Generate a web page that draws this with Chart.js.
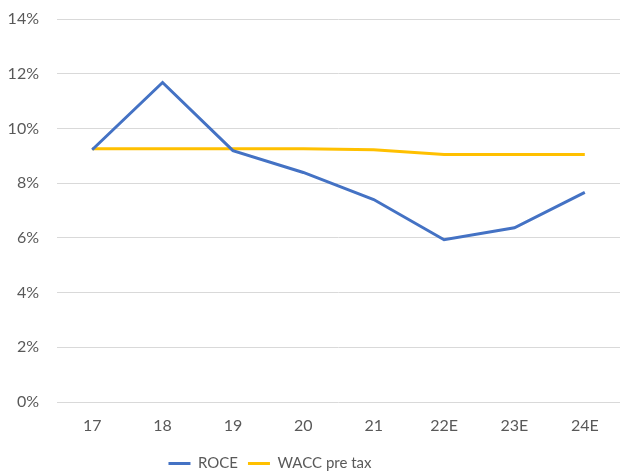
<!DOCTYPE html>
<html>
<head>
<meta charset="utf-8">
<script src="https://cdn.jsdelivr.net/npm/chart.js@4/dist/chart.umd.min.js"></script>
<style>
  html, body { margin: 0; padding: 0; background: #fff; }
  #wrap { width: 620px; height: 472px; position: relative; }
</style>
</head>
<body>
<div id="wrap"><canvas id="c" width="620" height="472"></canvas></div>
<script>
const categories = ['17', '18', '19', '20', '21', '22E', '23E', '24E'];
const roce = [9.22, 11.68, 9.19, 8.39, 7.40, 5.93, 6.37, 7.66];
const waccPreTax = [9.26, 9.26, 9.26, 9.26, 9.22, 9.05, 9.05, 9.05];
const yTicks = [0, 2, 4, 6, 8, 10, 12, 14];

const fontFamily = 'Lato, "Open Sans", sans-serif';
const textColor = '#595959';

// Nudge the legend row a little left of the canvas centre.
const legendShift = {
  id: 'legendShift',
  afterLayout(chart) {
    const lg = chart.legend;
    if (lg) { lg.left -= 40; lg.right -= 40; }
  }
};

new Chart(document.getElementById('c'), {
  type: 'line',
  data: {
    labels: categories,
    datasets: [
      { label: 'ROCE', data: roce, borderColor: '#4472C4', backgroundColor: '#4472C4',
        borderWidth: 3, pointRadius: 0, tension: 0 },
      { label: 'WACC pre tax', data: waccPreTax, borderColor: '#FFC000', backgroundColor: '#FFC000',
        borderWidth: 3, pointRadius: 0, tension: 0 }
    ]
  },
  plugins: [legendShift],
  options: {
    responsive: false,
    animation: false,
    layout: { padding: { top: 19, right: 0, left: 0, bottom: -9 } },
    plugins: {
      tooltip: { enabled: false },
      legend: {
        position: 'bottom',
        labels: {
          color: textColor,
          font: { family: fontFamily, size: 15 },
          usePointStyle: true,
          pointStyle: 'line',
          pointStyleWidth: 22,
          boxHeight: 3,
          padding: 10
        }
      }
    },
    scales: {
      x: {
        offset: true,
        grid: { display: false, offset: true },
        border: { display: false },
        ticks: { color: textColor, font: { family: fontFamily, size: 16 }, padding: 6 },
        afterFit: s => { s.height = 44; }
      },
      y: {
        min: 0, max: 14,
        afterBuildTicks: s => { s.ticks = yTicks.map(v => ({ value: v })); },
        grid: { color: '#D9D9D9', lineWidth: 1, drawTicks: false },
        border: { display: false },
        ticks: { color: textColor, font: { family: fontFamily, size: 16 }, padding: 18,
                 callback: v => v + '%' },
        afterFit: s => { s.width = 57; s.paddingTop = 0; s.paddingBottom = 0; }
      }
    }
  }
});
</script>
</body>
</html>
